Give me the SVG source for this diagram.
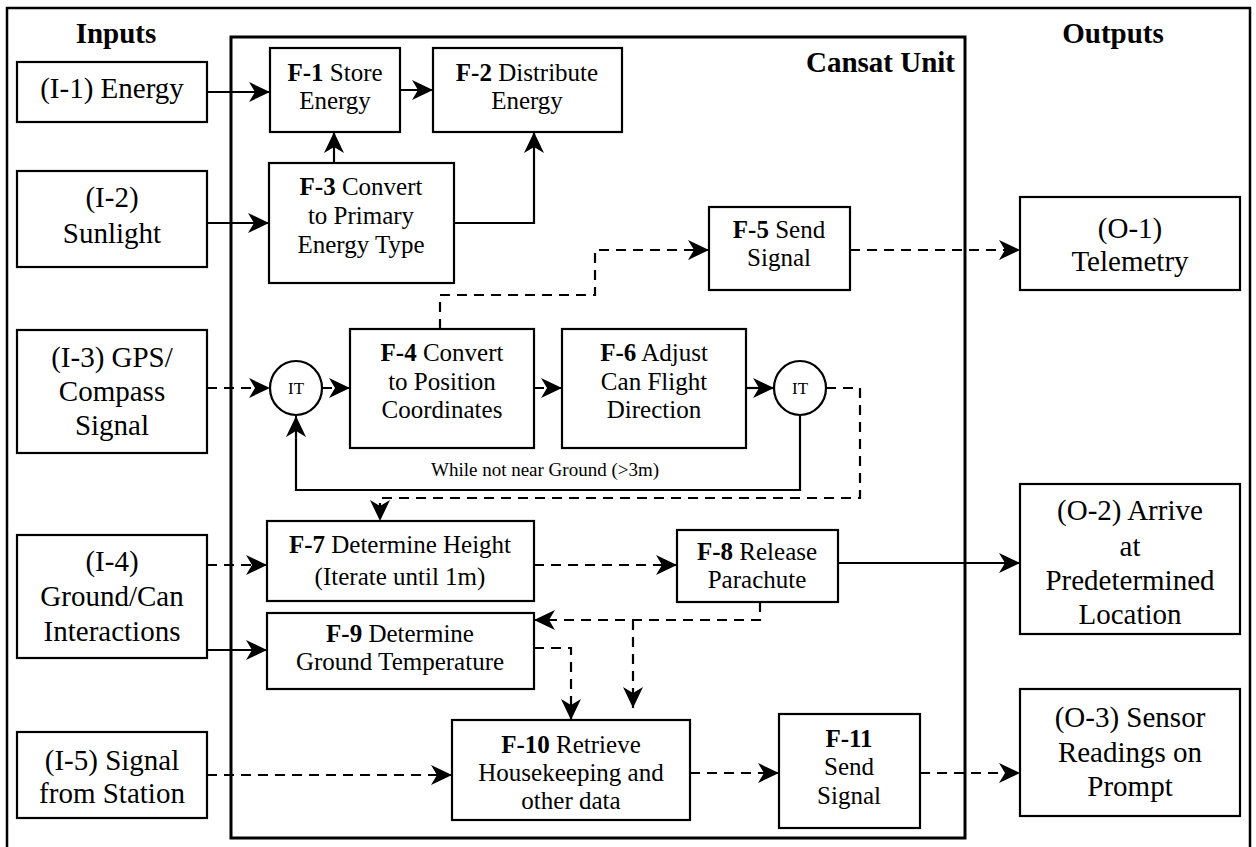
<svg xmlns="http://www.w3.org/2000/svg" width="1256" height="847" viewBox="0 0 1256 847">
<defs>
<style>
.box{fill:#fff;stroke:#000;stroke-width:2.2}
.frame{fill:none;stroke:#000;stroke-width:3}
.t{fill:#000;text-anchor:middle;font-family:"Times New Roman","Liberation Serif",serif}
.io{font-size:29px}
.fn{font-size:25px}
.h{font-size:29px;font-weight:bold}
.b{font-weight:bold}
.c{fill:none;stroke:#000;stroke-width:2.2}
.d{stroke-dasharray:10 7}
.a{marker-end:url(#arr)}
</style>
<marker id="arr" markerUnits="userSpaceOnUse" markerWidth="22" markerHeight="20" refX="21" refY="10" orient="auto" viewBox="0 0 22 20">
<path d="M0,0 L21,10 L0,20 L6,10 Z" fill="#000"/>
</marker>
</defs>
<rect width="1256" height="847" fill="#fff"/>
<rect x="7" y="8" width="1243" height="850" class="frame" style="stroke-width:2.5"/>
<rect x="231" y="37" width="734" height="801" class="frame"/>
<text class="t h" x="116" y="43">Inputs</text>
<text class="t h" x="1113" y="43">Outputs</text>
<text class="t h" x="955" y="72" style="text-anchor:end">Cansat Unit</text>

<g id="connectors">
<path class="c a" d="M207,92 H270"/>
<path class="c a" d="M400,90 H433"/>
<path class="c a" d="M334,163 V132"/>
<path class="c a" d="M454,223 H534 V132"/>
<path class="c a" d="M207,223 H269"/>
<path class="c d a" d="M440,329 V295 H595 V250 H709"/>
<path class="c d a" d="M850,250 H1020"/>
<path class="c d a" d="M207,388 H270"/>
<path class="c d a" d="M322,388 H350"/>
<path class="c d a" d="M534,388 H562"/>
<path class="c a" d="M746,388 H774"/>
<path class="c a" d="M800,416 V490 H296 V416"/>
<path class="c d a" d="M826,388 H860 V498 H380 V521"/>
<path class="c d a" d="M207,565 H267"/>
<path class="c d a" d="M534,565 H677"/>
<path class="c a" d="M838,563 H1020"/>
<path class="c a" d="M207,650 H267"/>
<path class="c d a" d="M760,602 V620 H534"/>
<path class="c d a" d="M633,620 V708"/>
<path class="c d a" d="M534,648 H571 V720"/>
<path class="c d a" d="M207,775 H452"/>
<path class="c d a" d="M690,773 H779"/>
<path class="c d a" d="M920,773 H1020"/>
</g>

<g id="I-1"><rect class="box" x="17" y="62" width="190" height="60"/><text class="t io" x="112" y="98">(I-1) Energy</text></g>
<g id="I-2"><rect class="box" x="17" y="171" width="190" height="96"/><text class="t io" x="112" y="207">(I-2)</text><text class="t io" x="112" y="243">Sunlight</text></g>
<g id="I-3"><rect class="box" x="17" y="330" width="190" height="123"/><text class="t io" x="112" y="367">(I-3) GPS/</text><text class="t io" x="112" y="401">Compass</text><text class="t io" x="112" y="435">Signal</text></g>
<g id="I-4"><rect class="box" x="17" y="535" width="190" height="123"/><text class="t io" x="112" y="571">(I-4)</text><text class="t io" x="112" y="606">Ground/Can</text><text class="t io" x="112" y="641">Interactions</text></g>
<g id="I-5"><rect class="box" x="17" y="732" width="190" height="86"/><text class="t io" x="112" y="770">(I-5) Signal</text><text class="t io" x="112" y="803">from Station</text></g>

<g id="O-1"><rect class="box" x="1020" y="197" width="220" height="93"/><text class="t io" x="1130" y="238">(O-1)</text><text class="t io" x="1130" y="271">Telemetry</text></g>
<g id="O-2"><rect class="box" x="1020" y="484" width="220" height="150"/><text class="t io" x="1130" y="520">(O-2) Arrive</text><text class="t io" x="1130" y="556">at</text><text class="t io" x="1130" y="590">Predetermined</text><text class="t io" x="1130" y="624">Location</text></g>
<g id="O-3"><rect class="box" x="1020" y="689" width="220" height="127"/><text class="t io" x="1130" y="727">(O-3) Sensor</text><text class="t io" x="1130" y="762">Readings on</text><text class="t io" x="1130" y="796">Prompt</text></g>

<g id="F-1"><rect class="box" x="270" y="48" width="130" height="84"/><text class="t fn" x="335" y="81"><tspan class="b">F-1</tspan> Store</text><text class="t fn" x="335" y="109">Energy</text></g>
<g id="F-2"><rect class="box" x="433" y="48" width="189" height="84"/><text class="t fn" x="527" y="81"><tspan class="b">F-2</tspan> Distribute</text><text class="t fn" x="527" y="109">Energy</text></g>
<g id="F-3"><rect class="box" x="269" y="163" width="185" height="120"/><text class="t fn" x="361" y="195"><tspan class="b">F-3</tspan> Convert</text><text class="t fn" x="361" y="224">to Primary</text><text class="t fn" x="361" y="253">Energy Type</text></g>
<g id="F-5"><rect class="box" x="709" y="207" width="141" height="83"/><text class="t fn" x="779" y="238"><tspan class="b">F-5</tspan> Send</text><text class="t fn" x="779" y="266">Signal</text></g>
<g id="F-4"><rect class="box" x="350" y="329" width="184" height="119"/><text class="t fn" x="442" y="361"><tspan class="b">F-4</tspan> Convert</text><text class="t fn" x="442" y="390">to Position</text><text class="t fn" x="442" y="418">Coordinates</text></g>
<g id="F-6"><rect class="box" x="562" y="329" width="184" height="119"/><text class="t fn" x="654" y="361"><tspan class="b">F-6</tspan> Adjust</text><text class="t fn" x="654" y="390">Can Flight</text><text class="t fn" x="654" y="418">Direction</text></g>
<g id="IT-1"><ellipse class="box" cx="296" cy="388" rx="26" ry="27"/><text class="t" x="296" y="394" style="font-size:17px">IT</text></g>
<g id="IT-2"><ellipse class="box" cx="800" cy="388" rx="26" ry="27"/><text class="t" x="800" y="394" style="font-size:17px">IT</text></g>
<text class="t" x="545" y="476" style="font-size:19px">While not near Ground (&gt;3m)</text>
<g id="F-7"><rect class="box" x="267" y="521" width="267" height="80"/><text class="t fn" x="400" y="553"><tspan class="b">F-7</tspan> Determine Height</text><text class="t fn" x="400" y="585">(Iterate until 1m)</text></g>
<g id="F-8"><rect class="box" x="677" y="530" width="161" height="72"/><text class="t fn" x="757" y="560"><tspan class="b">F-8</tspan> Release</text><text class="t fn" x="757" y="588">Parachute</text></g>
<g id="F-9"><rect class="box" x="267" y="613" width="267" height="76"/><text class="t fn" x="400" y="642"><tspan class="b">F-9</tspan> Determine</text><text class="t fn" x="400" y="670">Ground Temperature</text></g>
<g id="F-10"><rect class="box" x="452" y="720" width="238" height="100"/><text class="t fn" x="571" y="753"><tspan class="b">F-10</tspan> Retrieve</text><text class="t fn" x="571" y="781">Housekeeping and</text><text class="t fn" x="571" y="809">other data</text></g>
<g id="F-11"><rect class="box" x="779" y="714" width="141" height="114"/><text class="t fn" x="849" y="747"><tspan class="b">F-11</tspan></text><text class="t fn" x="849" y="775">Send</text><text class="t fn" x="849" y="804">Signal</text></g>
</svg>
